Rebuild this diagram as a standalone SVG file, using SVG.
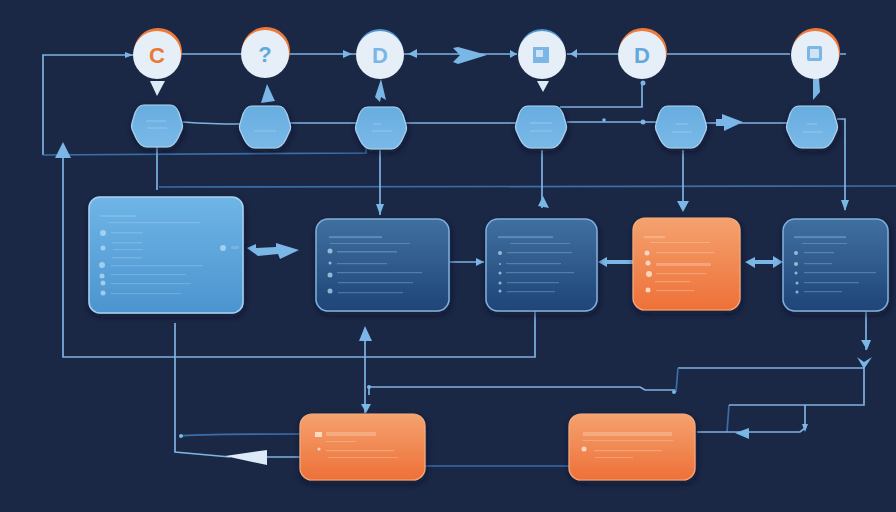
<svg xmlns="http://www.w3.org/2000/svg" width="896" height="512" viewBox="0 0 896 512">
<style>
.c{fill:none;stroke:#7fb2e0;stroke-width:1.7}
.d{fill:none;stroke:#3a6ea8;stroke-width:1.7}
.a{fill:#7ab6e6}
.w{fill:#dcebf7}
.g{font-family:"Liberation Sans",Arial,sans-serif;font-weight:700;font-size:22px;text-anchor:middle}
.hex{fill:url(#hx);stroke:#a9d3f1;stroke-width:1.2}
.circ{fill:#e6eff7}
.lb{fill:url(#lb);stroke:#a5d2f2;stroke-width:1.5}
.db{fill:url(#db);stroke:#7fb0dc;stroke-width:1.5}
.ob{fill:url(#ob);stroke:#f5ab7c;stroke-width:1.2}
.t{fill:#a9d6f5;opacity:.3}
.n{fill:#bfe0f7;opacity:.7}
.o{fill:#fde0c8;opacity:.32}
.p{fill:#fdeadb;opacity:.8}
</style>
<defs>
<linearGradient id="lb" x1="0" y1="0" x2="0" y2="1"><stop offset="0" stop-color="#6fb5e6"/><stop offset="1" stop-color="#4c94cf"/></linearGradient>
<linearGradient id="db" x1="0" y1="0" x2="0" y2="1"><stop offset="0" stop-color="#40709f"/><stop offset="1" stop-color="#1f4478"/></linearGradient>
<linearGradient id="ob" x1="0" y1="0" x2="0" y2="1"><stop offset="0" stop-color="#f4a26f"/><stop offset="1" stop-color="#ee7038"/></linearGradient>
<linearGradient id="hx" x1="0" y1="0" x2="0" y2="1"><stop offset="0" stop-color="#68addf"/><stop offset="1" stop-color="#79b9e8"/></linearGradient>
<filter id="s" x="-20%" y="-20%" width="140%" height="140%"><feDropShadow dx="1" dy="3" stdDeviation="3" flood-color="#0c1428" flood-opacity=".6"/></filter>
<path id="hexa" d="M-13-21H13C18-21 20-18 22-13L25-3Q26 0 25 3L21 12C18 18 14 21 10 21H-10C-14 21-18 18-21 12L-25 3Q-26 0-25-3L-22-13C-20-18-18-21-13-21Z"/>
<circle id="ci" r="24"/>
</defs>
<rect width="896" height="512" fill="#1a2745"/>
<g id="connectors">
<path class="c" d="M43 155V55H133M181 54H356M404 54H517M567 54H618M667 54H790M840 54H846"/>
<path class="d" d="M43 155L366 153V147M159 187L896 186"/>
<path class="c" d="M157 147V190M380 150V215M542 150V208M683 150V210M837 119H845V210M560 107H642V81"/>
<path class="c" d="M183 122Q210 124 241 124M290 123H357M406 123H516M567 122H657M706 123H788"/>
<path class="c" d="M63 150V357H535V311M175 323V452L230 457M267 457H300M365 335V413M450 262H484M866 311V350"/>
<path class="d" d="M181 436Q190 434 300 434M425 466H569M729 405L727 432"/>
<path class="c" d="M369 395V387H640L645 390H675M678 368H864V405H729M805 405V428L800 432H697"/>
<path class="d" d="M678 368L676 392"/>
<path class="a" d="M125 52L133 55 125 58ZM343 50L352 54 343 58ZM417 49L408 54 417 58ZM453 48L458 47 487 55 458 64 453 62 460 55ZM510 50L517 54 510 58ZM577 49L570 54 577 58Z"/>
<circle class="a" cx="643" cy="83" r="2.5"/>
<path class="w" d="M150 81H165L157 96Z"/>
<path class="a" d="M267 84L275 101 261 103Z"/>
<path class="a" d="M381 79L386 100 381 97 380 102 375 97Z"/>
<path class="w" d="M537 81H549L543 92Z"/>
<path class="a" d="M813 78H819L820 92 813 100Z"/>
<circle class="a" cx="604" cy="120" r="1.8"/><circle class="a" cx="643" cy="122" r="2.5"/>
<path class="a" d="M722 119V114L743 122 724 131V126H716V119Z"/>
<path class="a" d="M376 204H384L380 215ZM538 206L543 196 549 208ZM677 201H689L683 212ZM841 200H849L845 211Z"/>
<path class="a" d="M247 248L256 244 256 248 276 247 276 243 299 250 280 259 278 254 258 256Z"/>
<path class="a" d="M476 258L484 262 476 266ZM598 262L607 257 607 260H633V264H607V267ZM745 262L755 257 755 260H773V256L783 262 773 268V264H755V268Z"/>
<path class="a" d="M63 142L71 158H55ZM365 326L372 341H359ZM861 340L867 350 871 340ZM857 357L864 362 872 357 864 369ZM361 404H371L366 413ZM749 428V439L735 433ZM802 424H808L805 432ZM379 455H383V459H379Z"/>
<path class="w" d="M267 450V465L225 456Z"/>
<circle class="a" cx="181" cy="436" r="2"/><circle class="a" cx="674" cy="392" r="2"/><circle class="a" cx="369" cy="387" r="2"/>
</g>
<g id="top-c"><circle cx="158" cy="52" r="24" fill="#ee7a3a"/><use href="#ci" x="157" y="55" class="circ"/><text class="g" x="157" y="63" fill="#e9793a">C</text></g>
<g id="top-q"><circle cx="266" cy="51" r="24" fill="#ee7a3a"/><use href="#ci" x="265" y="54" class="circ"/><text class="g" x="265" y="62" fill="#62a8dc">?</text></g>
<g id="top-d1"><circle cx="380" cy="52" r="23" fill="#4f93cf"/><use href="#ci" x="380" y="55" class="circ"/><text class="g" x="380" y="63" fill="#7ab6e6">D</text></g>
<g id="top-doc1"><circle cx="542" cy="52" r="23" fill="#4f93cf"/><use href="#ci" x="542" y="55" class="circ"/><rect x="533" y="47" width="16" height="16" fill="#7ab6e6"/><rect x="536" y="50" width="7" height="7" fill="#cfe3f4"/></g>
<g id="top-d2"><circle cx="643" cy="52" r="24" fill="#ee7a3a"/><use href="#ci" x="642" y="55" class="circ"/><text class="g" x="642" y="63" fill="#62a8dc">D</text></g>
<g id="top-doc2"><circle cx="816" cy="52" r="24" fill="#ee7a3a"/><use href="#ci" x="815" y="55" class="circ"/><rect x="807" y="46" width="15" height="15" rx="2" fill="#7ab6e6"/><rect x="810" y="49" width="9" height="9" fill="#cfe3f4"/></g>
<g id="hex1" filter="url(#s)"><use href="#hexa" x="157" y="126" class="hex"/><rect class="t" x="146" y="120" width="20" height="2"/><rect class="t" x="147" y="127" width="20" height="2"/></g>
<g id="hex2" filter="url(#s)"><use href="#hexa" x="265" y="127" class="hex"/><rect class="t" x="254" y="130" width="22" height="2"/></g>
<g id="hex3" filter="url(#s)"><use href="#hexa" x="381" y="128" class="hex"/><rect class="t" x="373" y="123" width="8" height="2"/><rect class="t" x="372" y="130" width="20" height="2"/></g>
<g id="hex4" filter="url(#s)"><use href="#hexa" x="541" y="127" class="hex"/><rect class="t" x="530" y="122" width="22" height="2"/><rect class="t" x="530" y="130" width="22" height="2"/></g>
<g id="hex5" filter="url(#s)"><use href="#hexa" x="681" y="127" class="hex"/><rect class="t" x="676" y="123" width="12" height="2"/><rect class="t" x="672" y="131" width="20" height="2"/></g>
<g id="hex6" filter="url(#s)"><use href="#hexa" x="812" y="127" class="hex"/><rect class="t" x="807" y="123" width="10" height="2"/><rect class="t" x="803" y="131" width="20" height="2"/></g>
<g id="box-blue" filter="url(#s)"><rect x="89" y="197" width="154" height="116" rx="11" class="lb"/>
<rect class="t" x="100" y="215" width="36" height="2"/><rect class="t" x="108" y="222" width="92" height="1.2"/><rect class="t" x="111" y="232" width="32" height="1.5"/><rect class="t" x="112" y="242" width="30" height="1.5"/><rect class="t" x="113" y="249" width="30" height="1.2"/><rect class="t" x="112" y="257" width="30" height="1.5"/><rect class="t" x="111" y="265" width="92" height="1.2"/><rect class="t" x="111" y="274" width="75" height="1.2"/><rect class="t" x="111" y="283" width="80" height="1.2"/><rect class="t" x="111" y="293" width="70" height="1.2"/>
<circle class="n" cx="103" cy="233" r="3"/><circle class="n" cx="103" cy="248" r="2.5"/><circle class="n" cx="223" cy="248" r="3"/><rect class="t" x="231" y="246" width="8" height="3" rx="1.5"/><circle class="n" cx="102" cy="265" r="3"/><circle class="n" cx="102" cy="276" r="2.5"/><circle class="n" cx="103" cy="283" r="2.5"/><circle class="n" cx="103" cy="293" r="2.5"/></g>
<g id="box-dark1" filter="url(#s)"><rect x="316" y="219" width="133" height="92" rx="12" class="db"/>
<rect class="t" x="329" y="236" width="53" height="2.2"/><rect class="t" x="330" y="243" width="80" height="1"/><rect class="t" x="337" y="251" width="60" height="1.5"/><rect class="t" x="337" y="263" width="50" height="1.2"/><rect class="t" x="337" y="272" width="85" height="1.2"/><rect class="t" x="338" y="282" width="75" height="1.2"/><rect class="t" x="338" y="292" width="65" height="1.2"/>
<circle class="n" cx="330" cy="251" r="2.5"/><circle class="n" cx="330" cy="263" r="1.5"/><circle class="n" cx="330" cy="275" r="2.5"/><circle class="n" cx="330" cy="291" r="2.5"/></g>
<g id="box-dark2" filter="url(#s)"><rect x="486" y="219" width="111" height="92" rx="12" class="db"/>
<rect class="t" x="498" y="236" width="55" height="2.2"/><rect class="t" x="510" y="243" width="60" height="1"/><rect class="t" x="507" y="252" width="65" height="1.2"/><rect class="t" x="506" y="263" width="55" height="1.2"/><rect class="t" x="506" y="272" width="68" height="1.2"/><rect class="t" x="507" y="282" width="52" height="1.2"/><rect class="t" x="507" y="291" width="48" height="1.2"/>
<circle class="n" cx="500" cy="253" r="2"/><circle class="n" cx="500" cy="264" r="1"/><circle class="n" cx="500" cy="273" r="1.5"/><circle class="n" cx="500" cy="283" r="1.5"/><circle class="n" cx="500" cy="291" r="1.5"/></g>
<g id="box-orange1" filter="url(#s)"><rect x="633" y="218" width="107" height="92" rx="12" class="ob"/>
<rect class="o" x="644" y="236" width="21" height="2.2"/><rect class="o" x="650" y="242" width="60" height="1"/><rect class="o" x="656" y="252" width="58" height="1.2"/><rect class="o" x="656" y="263" width="55" height="3"/><rect class="o" x="656" y="273" width="50" height="1.2"/><rect class="o" x="655" y="281" width="35" height="1.2"/><rect class="o" x="656" y="290" width="38" height="1.2"/>
<circle class="p" cx="647" cy="253" r="2.5"/><circle class="p" cx="648" cy="263" r="2.5"/><circle class="p" cx="649" cy="274" r="3"/><circle class="p" cx="648" cy="290" r="2.5"/></g>
<g id="box-dark3" filter="url(#s)"><rect x="783" y="219" width="105" height="92" rx="12" class="db"/>
<rect class="t" x="794" y="236" width="52" height="2.2"/><rect class="t" x="802" y="243" width="45" height="1"/><rect class="t" x="804" y="252" width="30" height="1.2"/><rect class="t" x="804" y="263" width="28" height="1.2"/><rect class="t" x="804" y="272" width="72" height="1.2"/><rect class="t" x="804" y="282" width="55" height="1.2"/><rect class="t" x="804" y="291" width="38" height="1.2"/>
<circle class="n" cx="796" cy="253" r="2"/><circle class="n" cx="796" cy="264" r="2"/><circle class="n" cx="796" cy="273" r="1.5"/><circle class="n" cx="797" cy="283" r="1.5"/><circle class="n" cx="797" cy="292" r="1.5"/></g>
<g id="box-orange2" filter="url(#s)"><rect x="300" y="414" width="125" height="66" rx="12" class="ob"/>
<rect class="p" x="315" y="432" width="7" height="5"/><rect class="o" x="326" y="432" width="50" height="4"/><rect class="o" x="326" y="441" width="30" height="1"/><rect class="o" x="326" y="450" width="68" height="1.2"/><rect class="o" x="328" y="457" width="70" height="1"/><circle class="p" cx="319" cy="449" r="1.5"/></g>
<g id="box-orange3" filter="url(#s)"><rect x="569" y="414" width="126" height="66" rx="12" class="ob"/>
<rect class="o" x="583" y="432" width="89" height="4"/><rect class="o" x="583" y="440" width="90" height="1"/><rect class="o" x="594" y="450" width="68" height="1.2"/><rect class="o" x="595" y="457" width="38" height="1"/><circle class="p" cx="584" cy="449" r="2.5"/></g>
</svg>
